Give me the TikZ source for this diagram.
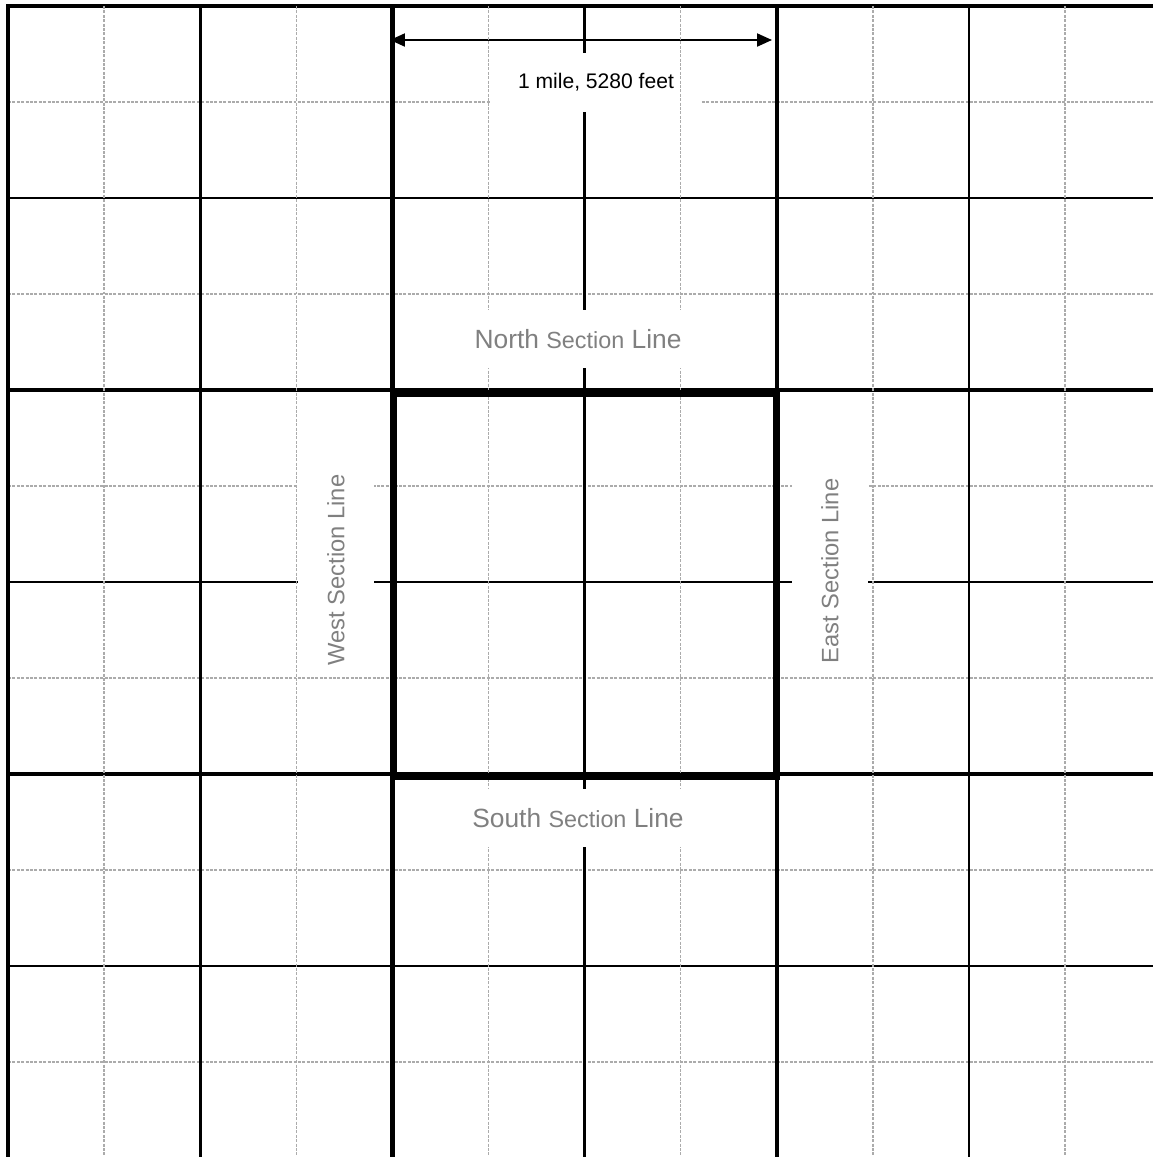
\documentclass[tikz,border=0pt]{standalone}
\usepackage{fontspec}
\setmainfont{Liberation Sans}
\usetikzlibrary{arrows.meta}

\begin{document}
\begin{tikzpicture}[
  x=0.02cm, y=-0.02cm,
  secline/.style={line width=2.4pt},
  qline/.style={line width=1.6pt},
  sixteenth/.style={draw=black!33, line width=0.7pt, dash pattern=on 1.7pt off 0.8pt},
  sectbox/.style={line width=4pt},
  dim/.style={{Triangle[length=8.5pt,width=7.4pt]}-{Triangle[length=8.5pt,width=7.4pt]}, line width=1.1pt},
  lbl/.style={fill=white, text=black!50, inner sep=0pt, font=\fontsize{13.5}{16}\selectfont},
  big/.style={font=\fontsize{15}{18}\selectfont}
]
  \useasboundingbox (0,0) rectangle (1153,1157);

  % sixteenth lines across
  \foreach \j in {1,3,...,11}
    \draw[sixteenth] (8,{6+96*\j}) -- (1160,{6+96*\j});
  % quarter and section lines across
  \foreach \j in {2,6,10}
    \draw[qline] (8,{6+96*\j}) -- (1160,{6+96*\j});
  \foreach \j in {0,4,8}
    \draw[secline] (6,{6+96*\j}) -- (1160,{6+96*\j});
  % quarter and section lines down
  \foreach \i in {2,6,10}
    \draw[qline] ({8+96.1*\i},6) -- ({8+96.1*\i},1160);
  \foreach \i in {0,4,8}
    \draw[secline] ({8+96.1*\i},4) -- ({8+96.1*\i},1160);

  % one mile dimension
  \coordinate (mw) at (390,40);
  \coordinate (me) at (772,40);
  \draw[dim] (mw) -- (me);
  \node[fill=white, inner sep=0pt, minimum width=4.22cm, minimum height=1.18cm,
        font=\fontsize{12}{14}\selectfont] (mile) at (596,82) {1 mile, 5280 feet};

  % sixteenth lines down
  \foreach \i in {1,3,...,11}
    \draw[sixteenth] ({8+96.1*\i},6) -- ({8+96.1*\i},1160);

  % section line labels
  \node[lbl, big, minimum width=5cm, minimum height=1.16cm] (north) at (578,339)
    {North {\fontsize{13.3}{16}\selectfont Section} Line};
  \node[lbl, big, minimum width=5cm, minimum height=1.16cm] (south) at (578,818)
    {South {\fontsize{13.3}{16}\selectfont Section} Line};
  \node[lbl, rotate=90, minimum width=4cm, minimum height=1.52cm] (west) at (336,570)
    {West Section Line};
  \node[lbl, rotate=90, minimum width=4cm, minimum height=1.52cm] (east) at (830,571)
    {East Section Line};

  % the section
  \draw[sectbox] (393.5,393.5) rectangle (776.5,776.5);
\end{tikzpicture}
\end{document}
